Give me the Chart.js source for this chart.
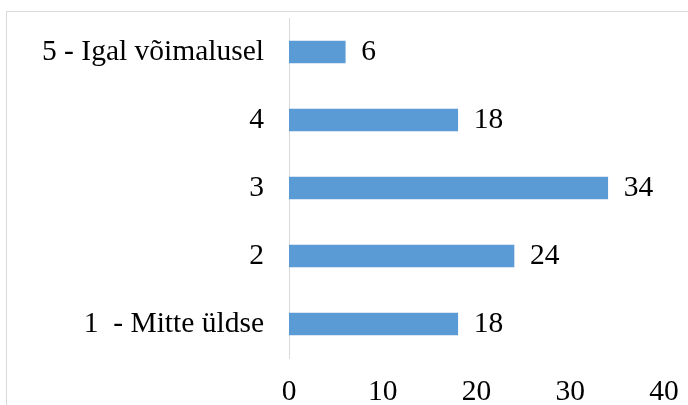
<!DOCTYPE html>
<html>
<head>
<meta charset="utf-8">
<script src="https://cdn.jsdelivr.net/npm/chart.js@4/dist/chart.umd.min.js"></script>
<style>
  html, body { margin: 0; padding: 0; background: #ffffff; }
  #wrap { width: 688px; height: 405px; }
</style>
</head>
<body>
<div id="wrap"><canvas id="c" width="688" height="405"></canvas></div>
<script>
// Answer categories, top to bottom
const categories = ["5 - Igal võimalusel", "4", "3", "2", "1  - Mitte üldse"];
// Number of responses per category
const counts = [6, 18, 34, 24, 18];
// Value axis ticks
const xTicks = [0, 10, 20, 30, 40];

const FONT = "'Liberation Serif', 'Times New Roman', serif";
const FONT_SIZE = 29.5;

// Light frame around the chart
const framePlugin = {
  id: 'frame',
  beforeDraw(chart) {
    const ctx = chart.ctx;
    ctx.save();
    ctx.strokeStyle = '#d9d9d9';
    ctx.lineWidth = 1;
    ctx.strokeRect(6.5, 11.5, 900, 600);
    ctx.restore();
  }
};

// Value labels to the right of each bar
const valueLabels = {
  id: 'valueLabels',
  afterDatasetsDraw(chart) {
    const ctx = chart.ctx;
    const meta = chart.getDatasetMeta(0);
    const data = chart.data.datasets[0].data;
    ctx.save();
    ctx.font = FONT_SIZE + 'px ' + FONT;
    ctx.fillStyle = '#000000';
    ctx.textAlign = 'left';
    ctx.textBaseline = 'middle';
    meta.data.forEach((bar, i) => {
      ctx.fillText(String(data[i]), bar.x + 16, bar.y);
    });
    ctx.restore();
  }
};

new Chart(document.getElementById('c'), {
  type: 'bar',
  data: {
    labels: categories,
    datasets: [{
      data: counts,
      backgroundColor: '#5b9bd5',
      borderWidth: 0,
      barThickness: 22
    }]
  },
  options: {
    indexAxis: 'y',
    responsive: false,
    animation: false,
    layout: { padding: { top: 18, right: 24, bottom: 0, left: 0 } },
    plugins: {
      legend: { display: false },
      tooltip: { enabled: false }
    },
    scales: {
      x: {
        min: 0,
        max: 40,
        afterBuildTicks(scale) {
          scale.ticks = xTicks.map(v => ({ value: v }));
        },
        afterFit(scale) {
          scale.height = 47;
          scale.paddingLeft = 0;
          scale.paddingRight = 0;
        },
        grid: { display: false, drawTicks: false },
        border: { display: false },
        ticks: {
          padding: 17,
          color: '#000000',
          font: { family: FONT, size: FONT_SIZE },
          maxRotation: 0
        }
      },
      y: {
        afterFit(scale) {
          scale.width = 289;
          scale.paddingTop = 0;
          scale.paddingBottom = 0;
        },
        grid: { display: false, drawTicks: false },
        border: { display: true, color: '#d9d9d9', width: 1 },
        ticks: {
          padding: 25,
          color: '#000000',
          font: { family: FONT, size: FONT_SIZE }
        }
      }
    }
  },
  plugins: [framePlugin, valueLabels]
});
</script>
</body>
</html>
